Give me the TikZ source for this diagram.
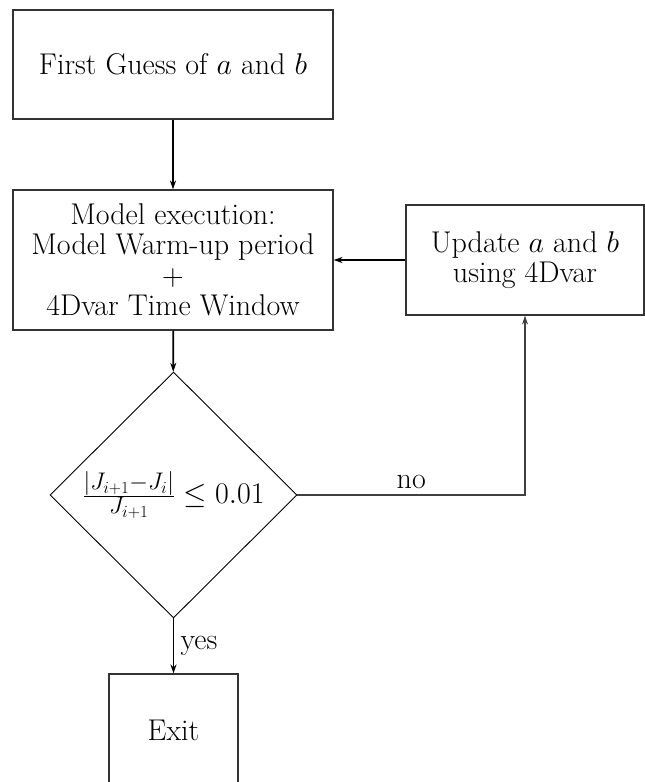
\RequirePackage{fix-cm}
\documentclass[tikz,border=0pt]{standalone}
\usetikzlibrary{shapes.geometric,arrows.meta}
\DeclareMathSizes{30}{30}{24}{17}
\begin{document}
\begin{tikzpicture}[x=1pt,y=-1pt,
  font=\fontsize{30}{30.5}\selectfont,
  box/.style={draw=black!80, line width=1.1pt, rectangle, inner sep=0pt, align=center},
  decbox/.style={draw=black, line width=0.9pt, diamond, inner sep=0pt, minimum width=247pt, minimum height=246pt},
  arr/.style={line width=1.7pt, -{Stealth[length=9pt,width=6pt]}},
  arrthin/.style={line width=1.2pt, draw=black!75, -{Stealth[length=9pt,width=6pt]}}]
\useasboundingbox (0,0) rectangle (645,782);
\clip (0,0) rectangle (645,782);
\node[box, minimum width=320pt, minimum height=109pt] (guess) at (173,64.5) {First Guess of $a$ and $b$};
\node[box, minimum width=320pt, minimum height=140pt] (model) at (173,260) {Model execution:\\Model Warm-up period\\+\\4Dvar Time Window};
\node[box, minimum width=238pt, minimum height=110pt] (update) at (525,260) {Update $a$ and $b$\\using 4Dvar};
\node[decbox] (dec) at (173.5,495) {$\frac{|J_{i+1}-J_i|}{J_{i+1}}\leq 0.01$};
\node[box, minimum width=129pt, minimum height=112pt] (exit) at (173.5,730) {Exit};
\draw[arr] (guess) -- (model);
\draw[arr] (update.west) -- (model.east);
\draw[arr] (model) -- (dec);
\draw[arr] (dec) -- node[right, xshift=3pt]{yes} (exit);
\draw[arrthin] (dec.east) -- node[above, yshift=2pt]{no} (dec.east -| update.south) -- (update.south);
\end{tikzpicture}
\end{document}
